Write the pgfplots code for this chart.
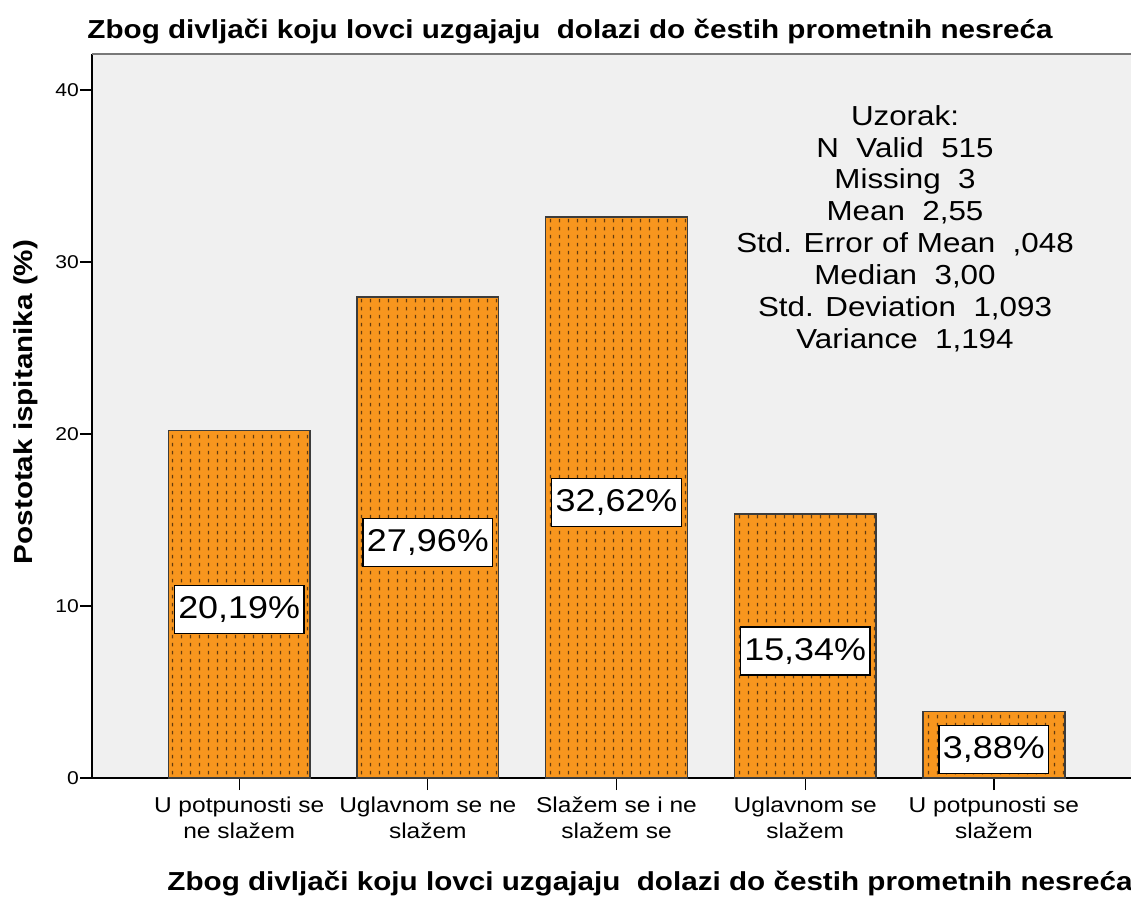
\documentclass[border=0pt]{standalone}
\usepackage{pgfplots}
\pgfplotsset{compat=1.18}
\usepackage{pgfplotstable}
\usepackage{fontspec}
\setmainfont{Liberation Sans}[FakeStretch=1.14]
\usetikzlibrary{patterns}
\definecolor{barorange}{RGB}{248,150,30}
\definecolor{dashbrown}{RGB}{100,60,15}
\definecolor{bgcol}{RGB}{240,240,240}
\definecolor{framegray}{RGB}{120,120,120}
\definecolor{bardraw}{RGB}{60,60,60}
\pgfdeclarepatternformonly{spssdash}{\pgfpointorigin}{\pgfqpoint{9.4pt}{7.5pt}}{\pgfqpoint{9.4pt}{7.5pt}}{%
  \pgfpathrectangle{\pgfqpoint{4.2pt}{1.8pt}}{\pgfqpoint{1.3pt}{3.6pt}}\pgfusepath{fill}}

\pgfplotstableread{
x v
0 20.19
1 27.96
2 32.62
3 15.34
4 3.88
}\datatable

\begin{document}
\begin{tikzpicture}
\useasboundingbox (0,0) rectangle (1131pt,896pt);
\begin{axis}[
  at={(92pt,118pt)}, anchor=south west,
  scale only axis, width=1049pt, height=724pt,
  xmin=-0.78, xmax=4.78, ymin=0, ymax=42.09,
  axis lines=left,
  axis line style={-, line width=1.6pt, black},
  axis background/.style={fill=bgcol},
  tick align=outside,
  major tick length=12pt,
  tick style={line width=1.3pt, black},
  xtick={0,1,2,3,4},
  xticklabels={{U potpunosti se\\ne slažem},{Uglavnom se ne\\slažem},{Slažem se i ne\\slažem se},{Uglavnom se\\slažem},{U potpunosti se\\slažem}},
  xticklabel style={align=center, font=\fontsize{21.5}{25.7}\selectfont, inner sep=0pt, yshift=-7pt},
  ytick={0,10,20,30,40},
  yticklabel style={font=\fontsize{18.5}{20}\selectfont, inner sep=0pt, xshift=-1pt},
  /pgf/number format/assume math mode=true,
  clip=false,
]
\draw[framegray, line width=1.6pt] (rel axis cs:0,1) -- (rel axis cs:1,1);
\addplot[ybar, bar width=0.752, bar shift=0pt, fill=barorange, draw=bardraw, line width=1.4pt,
  postaction={pattern=spssdash, pattern color=dashbrown}]
  table[x=x, y=v] {\datatable};
\addplot[draw=none, mark=none,
  nodes near coords={\pgfmathprintnumber[fixed, fixed zerofill, precision=2, use comma]{\pgfplotspointmeta}\%},
  point meta=explicit,
  every node near coord/.style={anchor=center, yshift=-5pt, draw=black, line width=1.3pt, fill=white, text=black,
    font=\fontsize{31.5}{32}\selectfont, minimum height=48pt, inner xsep=4pt, inner ysep=0pt}]
  table[x=x, y expr=\thisrow{v}/2, meta=v] {\datatable};
\end{axis}
\node[align=center, anchor=north, inner sep=0pt, font=\fontsize{27.5}{31.9}\selectfont] at (905pt,791pt)
  {Uzorak:\\N\ \ Valid\ \ 515\\Missing\ \ 3\\Mean\ \ 2,55\\Std. Error of Mean\ \ ,048\\Median\ \ 3,00\\Std. Deviation\ \ 1,093\\Variance\ \ 1,194};
\node[anchor=base, inner sep=0pt, font=\bfseries\fontsize{26}{30}\selectfont] at (570pt,857pt)
  {Zbog divljači koju lovci uzgajaju\ \ dolazi do čestih prometnih nesreća};
\node[anchor=base, inner sep=0pt, font=\bfseries\fontsize{26}{30}\selectfont] at (650pt,6pt)
  {Zbog divljači koju lovci uzgajaju\ \ dolazi do čestih prometnih nesreća};
\node[rotate=90, anchor=base, inner sep=0pt, font=\bfseries\fontsize{26}{30}\selectfont] at (32.6pt,494pt)
  {Postotak ispitanika (\%)};
\end{tikzpicture}
\end{document}
